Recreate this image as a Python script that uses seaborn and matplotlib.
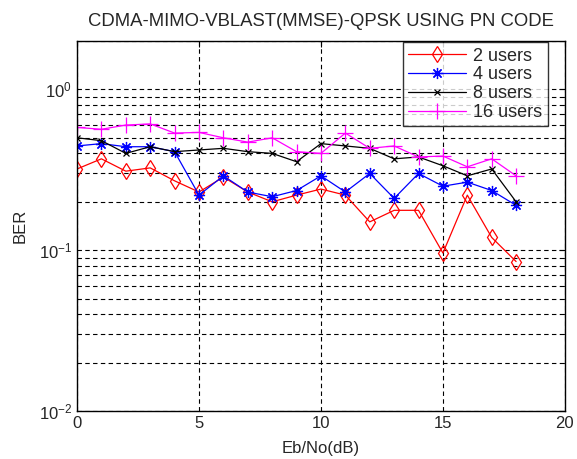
import numpy as np
import pandas as pd
import seaborn as sns
import matplotlib.pyplot as plt
from matplotlib.ticker import LogLocator, NullFormatter

snr = list(range(0, 19))

ber_2 = [0.32, 0.37, 0.31, 0.325, 0.27, 0.23, 0.285, 0.23, 0.20, 0.22, 0.24,
         0.22, 0.15, 0.177, 0.177, 0.096, 0.22, 0.12, 0.085]
ber_4 = [0.445, 0.46, 0.44, 0.44, 0.41, 0.22, 0.29, 0.23, 0.215, 0.235, 0.29,
         0.23, 0.30, 0.21, 0.30, 0.25, 0.265, 0.235, 0.19]
ber_8 = [0.50, 0.48, 0.40, 0.44, 0.41, 0.42, 0.43, 0.41, 0.40, 0.355, 0.46,
         0.445, 0.43, 0.37, 0.38, 0.335, 0.29, 0.32, 0.20]
ber_16 = [0.58, 0.565, 0.60, 0.61, 0.535, 0.54, 0.50, 0.47, 0.50, 0.41, 0.40,
          0.535, 0.43, 0.445, 0.38, 0.385, 0.33, 0.37, 0.29]

labels = ['2 users', '4 users', '8 users', '16 users']
colors = ['red', 'blue', 'black', 'magenta']
# matlab-like markers: diamond, asterisk, x, plus
markers = ['d', (8, 2, 0), 'x', '+']
sizes = [8, 8, 5, 11]

df = pd.DataFrame({'snr': snr * 4,
                   'ber': ber_2 + ber_4 + ber_8 + ber_16,
                   'users': np.repeat(labels, len(snr))})

sns.set_style('white')
plt.rcParams['font.family'] = ['Liberation Sans', 'DejaVu Sans']

fig = plt.figure(figsize=(5.77, 4.59), dpi=100)
ax = fig.add_axes([0.1335, 0.1046, 0.8455, 0.8061])

for lab, c, m, s in zip(labels, colors, markers, sizes):
    sns.lineplot(x='snr', y='ber', data=df[df['users'] == lab], color=c,
                 marker=m, markersize=s, markerfacecolor='none',
                 markeredgecolor=c, markeredgewidth=0.9, linewidth=0.9,
                 label=lab, ax=ax)

ax.set_yscale('log')
ax.set_xlim(0, 20)
ax.set_ylim(0.01, 2)
ax.set_xticks([0, 5, 10, 15, 20])
ax.yaxis.set_major_locator(LogLocator(base=10, numticks=5))
ax.yaxis.set_minor_locator(LogLocator(base=10, subs=np.arange(2, 10), numticks=20))
ax.yaxis.set_minor_formatter(NullFormatter())

ax.grid(which='major', axis='both', color='black', linestyle=(0, (4, 3)), linewidth=0.8)
ax.grid(which='minor', axis='y', color='black', linestyle=(0, (4, 3)), linewidth=0.8)
ax.set_axisbelow(True)

ax.tick_params(which='both', direction='in', labelsize=12, top=True, right=True,
               length=4, color='black')
ax.tick_params(which='minor', length=2)
for sp in ax.spines.values():
    sp.set_color('black')
    sp.set_linewidth(1.0)

ax.set_xlabel('Eb/No(dB)', fontsize=12, labelpad=7)
ax.set_ylabel('BER', fontsize=12, labelpad=8)
ax.set_title('CDMA-MIMO-VBLAST(MMSE)-QPSK USING PN CODE', fontsize=13.3, pad=11)

leg = ax.legend(loc='upper right', fontsize=13, frameon=True, fancybox=False,
                handlelength=3.2, handletextpad=0.4, borderpad=0.3,
                labelspacing=0.1, borderaxespad=0.0,
                bbox_to_anchor=(0.965, 0.997))
leg.get_frame().set_edgecolor('black')
leg.get_frame().set_linewidth(1.0)

fig.savefig('out.png', dpi=100)
